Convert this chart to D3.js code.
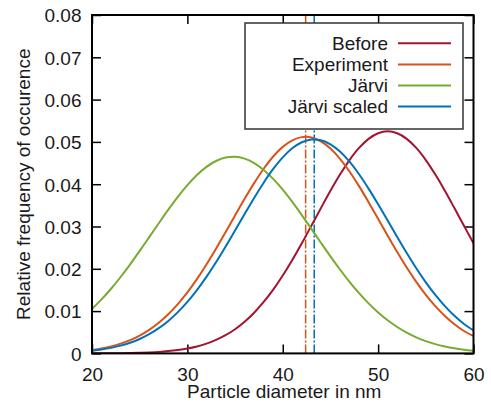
<!DOCTYPE html>
<html>
<head>
<meta charset="utf-8">
<script src="https://cdn.jsdelivr.net/npm/d3@7"></script>
<style>
  body { margin: 0; background: #fff; }
  text { font-family: "Liberation Sans", Arial, sans-serif; fill: #1a1a1a; }
</style>
</head>
<body>
<div id="chart"></div>
<script>
{
  const { d3 } = window;

  // particle diameter in nm, 1 nm steps
  const diameters = d3.range(20, 61);

  const before = [
    0.00001, 0.00002, 0.00004, 0.00006, 0.00010, 0.00015, 0.00024, 0.00036, 0.00054, 0.00080,
    0.00115, 0.00165, 0.00231, 0.00318, 0.00430, 0.00572, 0.00749, 0.00962, 0.01216, 0.01509,
    0.01842, 0.02209, 0.02604, 0.03017, 0.03435, 0.03845, 0.04228, 0.04571, 0.04857, 0.05072,
    0.05205, 0.05250, 0.05205, 0.05072, 0.04857, 0.04571, 0.04228, 0.03845, 0.03435, 0.03017,
    0.02604,
  ];
  const experiment = [
    0.00082, 0.00118, 0.00166, 0.00231, 0.00315, 0.00423, 0.00558, 0.00726, 0.00927, 0.01166,
    0.01442, 0.01755, 0.02100, 0.02472, 0.02863, 0.03261, 0.03654, 0.04026, 0.04365, 0.04655,
    0.04882, 0.05038, 0.05113, 0.05105, 0.05013, 0.04842, 0.04601, 0.04301, 0.03954, 0.03576,
    0.03181, 0.02784, 0.02396, 0.02029, 0.01690, 0.01384, 0.01116, 0.00884, 0.00689, 0.00529,
    0.00410,
  ];
  const jarvi = [
    0.01050, 0.01276, 0.01528, 0.01806, 0.02106, 0.02422, 0.02748, 0.03076, 0.03397, 0.03700,
    0.03976, 0.04216, 0.04409, 0.04549, 0.04630, 0.04649, 0.04605, 0.04500, 0.04338, 0.04125,
    0.03870, 0.03581, 0.03270, 0.02945, 0.02617, 0.02294, 0.01984, 0.01692, 0.01424, 0.01182,
    0.00968, 0.00782, 0.00624, 0.00490, 0.00380, 0.00291, 0.00220, 0.00164, 0.00120, 0.00087,
    0.00062,
  ];
  const jarviScaled = [
    0.00064, 0.00092, 0.00131, 0.00183, 0.00252, 0.00341, 0.00454, 0.00596, 0.00768, 0.00975,
    0.01217, 0.01497, 0.01810, 0.02154, 0.02522, 0.02906, 0.03295, 0.03676, 0.04036, 0.04360,
    0.04635, 0.04849, 0.04992, 0.05056, 0.05040, 0.04944, 0.04772, 0.04532, 0.04235, 0.03895,
    0.03525, 0.03139, 0.02751, 0.02372, 0.02013, 0.01680, 0.01381, 0.01116, 0.00888, 0.00695,
    0.00545,
  ];

  const seriesNames = ['Before', 'Experiment', 'Järvi', 'Järvi scaled'];
  const seriesValues = [before, experiment, jarvi, jarviScaled];
  const seriesColors = ['#a2142f', '#d95319', '#77ac30', '#0072bd'];

  // mean diameters of the experiment and the scaled model
  const meanDiameters = [42.4, 43.3];
  const meanColors = ['#d95319', '#0072bd'];

  const xTicks = [20, 30, 40, 50, 60];
  const yTicks = [0, 0.01, 0.02, 0.03, 0.04, 0.05, 0.06, 0.07, 0.08];

  const width = 491;
  const height = 403;
  const margin = { top: 15, right: 17.5, bottom: 49.6, left: 92 };
  const innerW = width - margin.left - margin.right;
  const innerH = height - margin.top - margin.bottom;
  const tickLen = 9;
  const fontSize = 19;

  const svg = d3.select('#chart').append('svg')
    .attr('width', width)
    .attr('height', height);

  const g = svg.append('g')
    .attr('transform', `translate(${margin.left},${margin.top})`);

  const x = d3.scaleLinear().domain([20, 60]).range([0, innerW]);
  const y = d3.scaleLinear().domain([0, 0.08]).range([innerH, 0]);

  svg.append('defs').append('clipPath')
    .attr('id', 'plot-clip')
    .append('rect')
    .attr('width', innerW)
    .attr('height', innerH);

  // ticks on all four sides, pointing inwards
  const yFormat = (d) => (d === 0 ? '0' : d3.format('.2f')(d));

  const left = g.append('g')
    .call(d3.axisLeft(y).tickValues(yTicks).tickSize(-tickLen).tickPadding(10.5).tickFormat(yFormat));
  const right = g.append('g')
    .attr('transform', `translate(${innerW},0)`)
    .call(d3.axisRight(y).tickValues(yTicks).tickSize(-tickLen).tickFormat(''));
  const bottom = g.append('g')
    .attr('transform', `translate(0,${innerH})`)
    .call(d3.axisBottom(x).tickValues(xTicks).tickSize(-tickLen).tickPadding(14.5));
  const top = g.append('g')
    .call(d3.axisTop(x).tickValues(xTicks).tickSize(-tickLen).tickFormat(''));

  [left, right, bottom, top].forEach((a) => {
    a.select('.domain').remove();
    a.selectAll('line').attr('stroke', '#000').attr('stroke-width', 1.5);
    a.selectAll('text').attr('font-size', fontSize).attr('fill', '#1a1a1a')
      .attr('font-family', '"Liberation Sans", Arial, sans-serif');
  });
  left.selectAll('text').attr('dy', '0.36em');

  const plot = g.append('g').attr('clip-path', 'url(#plot-clip)');

  // dash-dot markers at the mean diameters
  plot.selectAll('.mean')
    .data(meanDiameters)
    .join('line')
    .attr('class', 'mean')
    .attr('x1', (d) => x(d))
    .attr('x2', (d) => x(d))
    .attr('y1', y(0))
    .attr('y2', y(0.08))
    .attr('stroke', (d, i) => meanColors[i])
    .attr('stroke-width', 1.5)
    .attr('stroke-dasharray', '9,2,2,2');

  const line = d3.line()
    .x((d, i) => x(diameters[i]))
    .y((d) => y(d))
    .curve(d3.curveCatmullRom);

  plot.selectAll('.curve')
    .data(seriesValues)
    .join('path')
    .attr('class', 'curve')
    .attr('d', line)
    .attr('fill', 'none')
    .attr('stroke', (d, i) => seriesColors[i])
    .attr('stroke-width', 2);

  // frame
  g.append('rect')
    .attr('width', innerW)
    .attr('height', innerH)
    .attr('fill', 'none')
    .attr('stroke', '#000')
    .attr('stroke-width', 2);

  // legend
  const legend = g.append('g').attr('transform', 'translate(153,8)');
  legend.append('rect')
    .attr('width', 218)
    .attr('height', 106)
    .attr('fill', '#fff')
    .attr('stroke', '#333')
    .attr('stroke-width', 1.5);

  const rows = legend.selectAll('.row')
    .data(seriesNames)
    .join('g')
    .attr('class', 'row')
    .attr('transform', (d, i) => `translate(0,${20.3 + i * 21.1})`);
  rows.append('text')
    .attr('x', 143)
    .attr('dy', '0.36em')
    .attr('text-anchor', 'end')
    .attr('font-size', fontSize)
    .text((d) => d);
  rows.append('line')
    .attr('x1', 153)
    .attr('x2', 206)
    .attr('stroke', (d, i) => seriesColors[i])
    .attr('stroke-width', 2);

  // axis titles
  svg.append('text')
    .attr('x', margin.left + innerW / 2 + 1.5)
    .attr('y', 398)
    .attr('text-anchor', 'middle')
    .attr('font-size', fontSize)
    .text('Particle diameter in nm');

  svg.append('text')
    .attr('transform', `translate(29.5,${margin.top + innerH / 2}) rotate(-90)`)
    .attr('text-anchor', 'middle')
    .attr('font-size', fontSize)
    .text('Relative frequency of occurence');
}
</script>
</body>
</html>
